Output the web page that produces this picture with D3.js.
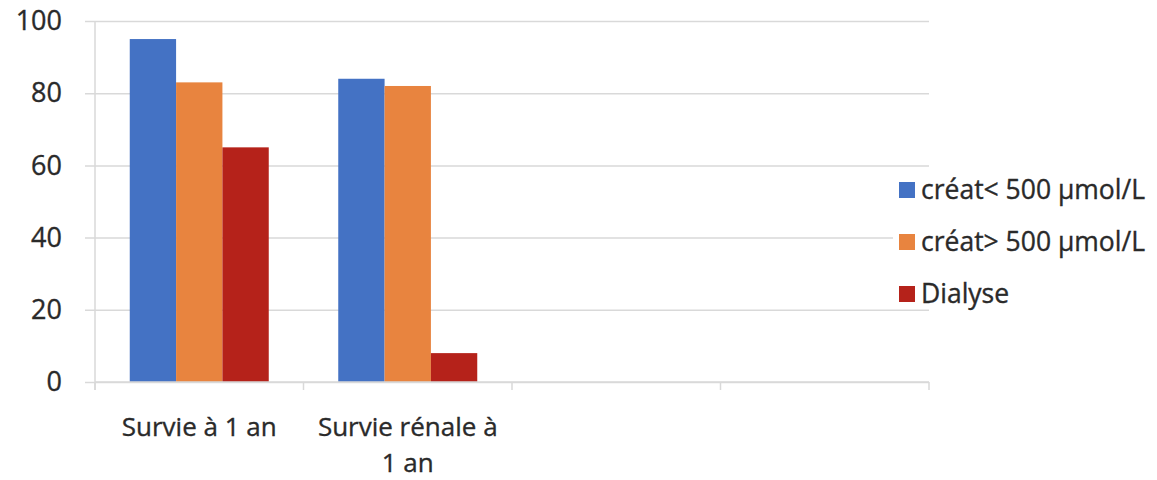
<!DOCTYPE html>
<html>
<head>
<meta charset="utf-8">
<script src="https://cdn.jsdelivr.net/npm/d3@7"></script>
<style>
  html, body { margin: 0; padding: 0; background: #fff; }
  svg { display: block; font-family: "Open Sans", sans-serif; }
</style>
</head>
<body>
<svg id="chart" width="1157" height="480"></svg>
<script>
// Category slots on the x axis (the last two are empty slots)
const categories = ["Survie à 1 an", "Survie rénale à 1 an", "", ""];
// Series, one value per category
const seriesNames = ["créat< 500 µmol/L", "créat> 500 µmol/L", "Dialyse"];
const creatBelow500 = [95, 84, null, null];
const creatAbove500 = [83, 82, null, null];
const dialyse = [65, 8, null, null];
const seriesColors = ["#4472C4", "#E8843F", "#B5221A"];
const yTicks = [0, 20, 40, 60, 80, 100];

const seriesValues = [creatBelow500, creatAbove500, dialyse];

const svg = d3.select("#chart");
const plot = { left: 95, right: 929, top: 21, bottom: 382 };
const textColor = "#2a2a2a";
const gridColor = "#d9d9d9";

const x = d3.scaleBand()
  .domain(d3.range(categories.length))
  .range([plot.left, plot.right])
  .paddingInner(0)
  .paddingOuter(0);

const y = d3.scaleLinear().domain([0, 100]).range([plot.bottom, plot.top]);

// Inner band for the three bars within each category (gap width 150%)
const barW = x.bandwidth() / (seriesNames.length + 1.5);
const xs = d3.scaleBand()
  .domain(d3.range(seriesNames.length))
  .range([barW * 0.75, barW * 0.75 + barW * seriesNames.length]);

// Horizontal gridlines with outward ticks on the value axis
const yAxis = d3.axisLeft(y)
  .tickValues(yTicks)
  .tickSize(-(plot.right - plot.left))
  .tickPadding(33)
  .tickFormat(d3.format("d"));

const gy = svg.append("g")
  .attr("transform", `translate(${plot.left},0)`)
  .call(yAxis);
gy.select(".domain").remove();
gy.selectAll(".tick line")
  .attr("x1", -10)
  .attr("stroke", gridColor)
  .attr("stroke-width", 1.5);
gy.selectAll(".tick text")
  .attr("fill", textColor)
  .attr("stroke", textColor)
  .attr("stroke-width", 0.35)
  .attr("font-size", 27)
  .attr("font-family", "'Open Sans', sans-serif");

// Vertical value-axis line
svg.append("line")
  .attr("x1", plot.left).attr("x2", plot.left)
  .attr("y1", plot.top).attr("y2", plot.bottom + 8)
  .attr("stroke", gridColor).attr("stroke-width", 1.5);

// Bars
const groups = svg.append("g").selectAll("g")
  .data(categories.map((c, i) => i))
  .join("g")
  .attr("transform", i => `translate(${x(i)},0)`);

groups.selectAll("rect")
  .data(i => seriesValues.map((vals, s) => ({ s, v: vals[i] })).filter(d => d.v != null))
  .join("rect")
  .attr("x", d => xs(d.s))
  .attr("width", xs.bandwidth())
  .attr("y", d => y(d.v))
  .attr("height", d => y(0) - y(d.v))
  .attr("fill", d => seriesColors[d.s]);

// Category axis with boundary ticks
const xAxis = d3.axisBottom(x).tickSize(0).tickFormat(i => categories[i]);
const gx = svg.append("g")
  .attr("transform", `translate(0,${plot.bottom})`)
  .call(xAxis);
gx.select(".domain")
  .attr("d", `M${plot.left},0H${plot.right}`)
  .attr("stroke", gridColor).attr("stroke-width", 1.5);
gx.selectAll(".tick text").remove();

const boundaries = d3.range(categories.length + 1).map(i => plot.left + i * x.step());
gx.selectAll("line.bound")
  .data(boundaries)
  .join("line")
  .attr("class", "bound")
  .attr("x1", d => d).attr("x2", d => d)
  .attr("y1", 0).attr("y2", 8)
  .attr("stroke", gridColor).attr("stroke-width", 1.5);

// Category labels, wrapped to the band width
const labelSize = 26;
const lineGap = 36;
const maxW = x.step() - 10;
const measure = svg.append("text").attr("font-size", labelSize).attr("visibility", "hidden");
function wrapWords(str) {
  const words = str.split(" ");
  const lines = [];
  let line = [];
  words.forEach(w => {
    const trial = line.concat(w).join(" ");
    measure.text(trial);
    if (line.length && measure.node().getComputedTextLength() > maxW) {
      lines.push(line.join(" "));
      line = [w];
    } else {
      line.push(w);
    }
  });
  if (line.length) lines.push(line.join(" "));
  return lines;
}

categories.forEach((c, i) => {
  if (!c) return;
  wrapWords(c).forEach((ln, k) => {
    svg.append("text")
      .attr("x", x(i) + x.bandwidth() / 2)
      .attr("y", 436 + k * lineGap)
      .attr("text-anchor", "middle")
      .attr("font-size", labelSize)
      .attr("fill", textColor)
      .attr("stroke", textColor)
      .attr("stroke-width", 0.35)
      .text(ln);
  });
});
measure.remove();

// Legend
const legend = svg.append("g");
legend.append("rect")
  .attr("x", 893).attr("y", 172)
  .attr("width", 264).attr("height", 132)
  .attr("fill", "#fff");
const rowY = [190, 242, 294];
seriesNames.forEach((name, s) => {
  legend.append("rect")
    .attr("x", 899).attr("y", rowY[s] - 8)
    .attr("width", 16).attr("height", 16)
    .attr("fill", seriesColors[s]);
  legend.append("text")
    .attr("x", 921).attr("y", rowY[s])
    .attr("dy", "0.35em")
    .attr("font-size", 26.5)
    .attr("fill", textColor)
    .attr("stroke", textColor)
    .attr("stroke-width", 0.35)
    .text(name);
});
</script>
</body>
</html>
